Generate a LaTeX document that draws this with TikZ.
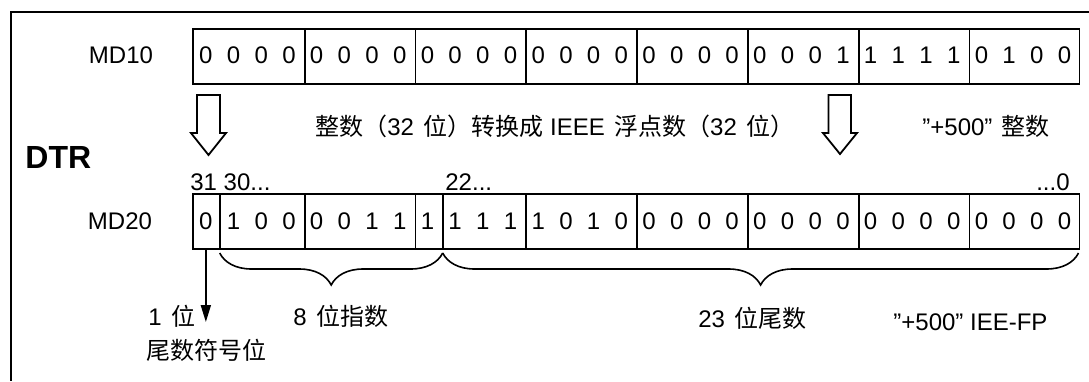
\documentclass[tikz,border=0pt]{standalone}
\usepackage{fontspec}
\setmainfont{Liberation Sans}
\newfontfamily\zhfont{Noto Sans CJK SC}
\usetikzlibrary{arrows.meta,decorations.pathreplacing}
\newcommand{\zh}[1]{{\zhfont #1}}
\tikzset{
	reg/.style={draw,line width=0.9pt,minimum width=443.25pt,minimum height=27.5pt,inner sep=0pt,anchor=north west},
	bit/.style={inner sep=0pt},
	lbl/.style={inner sep=0pt,anchor=west},
	fat/.style={draw,line width=0.9pt,fill=white},
	brc/.style={decorate,decoration={brace,amplitude=16pt},line width=0.8pt}
}

\begin{document}
\begin{tikzpicture}[x=0.5pt,y=-0.5pt,font=\fontsize{12}{14}\selectfont]
	\useasboundingbox (0,0) rectangle (1089,381);
	\draw[line width=1.1pt] (1089,12) -- (11,12) -- (11,381);
	% MD10
	\node (md10l) at (121,55.5) {MD10};
	\node[reg] (md10) at (192,28) {};
	\foreach \x in {304.6,415.4,526.2,637,747.8,858.6,969.4}
		\draw[line width=0.9pt] (\x,28) -- (\x,83);
	\foreach \b [count=\i from 0] in {0,0,0,0,0,0,0,0,0,0,0,0,0,0,0,0,0,0,0,0,0,0,0,1,1,1,1,1,0,1,0,0}
		\node[bit] (x\i) at (205.85+27.7*\i,55.5) {\b};
	% conversion
	\draw[fat] (197,95) -- (220,95) -- (220,133) -- (226,133) -- (208.5,155) -- (191,133) -- (197,133) -- cycle;
	\draw[fat] (828.5,95) -- (851,95) -- (851,133) -- (857,133) -- (840,154) -- (823,133) -- (828.5,133) -- cycle;
	\node[lbl] (conv) at (315,126) {\zh{整数（}32\,\zh{ 位）转换成} IEEE\,\zh{ 浮点数（}32\,\zh{ 位）}};
	\node[lbl] (int) at (922,126) {"+500"\,\zh{ 整数}};
	\node[anchor=base west,inner sep=0pt,font=\fontsize{16}{19}\selectfont\bfseries] (dtr) at (25,168) {DTR};
	% MD20
	\node[anchor=base west,inner sep=0pt] (n31) at (190,190) {31 30...};
	\node[anchor=base west,inner sep=0pt] (n22) at (445,190) {22...};
	\node[anchor=base east,inner sep=0pt] (n0) at (1070,190) {...0};
	\node (md20l) at (120,221) {MD20};
	\node[reg] (md20) at (192,193) {};
	\foreach \x in {219.7,304.6,415.4,442.7,526.2,637,747.8,858.6,969.4}
		\draw[line width=0.9pt] (\x,193) -- (\x,248);
	\foreach \b [count=\i from 0] in {0,1,0,0,0,0,1,1,1,1,1,1,1,0,1,0,0,0,0,0,0,0,0,0,0,0,0,0,0,0,0,0}
		\node[bit] (y\i) at (205.85+27.7*\i,221) {\b};
	% fields
	\draw[brc] (442.7,253) -- (219.7,253);
	\draw[brc] (1078.5,253) -- (442.7,253);
	\coordinate (sgn) at (205.85,322);
	\draw[-{Triangle[length=8.5pt,width=5pt]},line width=0.9pt] (y0 |- md20.south) -- (sgn);
	\node[lbl] (one) at (148,316) {1\,\zh{ 位}};
	\node[lbl] (sgnl) at (146,350) {\zh{尾数符号位}};
	\node[lbl] (exp) at (293,316) {8\,\zh{ 位指数}};
	\node[lbl] (man) at (698,318) {23\,\zh{ 位尾数}};
	\node[lbl] (fp) at (893,322) {"+500" IEE-FP};
\end{tikzpicture}
\end{document}
